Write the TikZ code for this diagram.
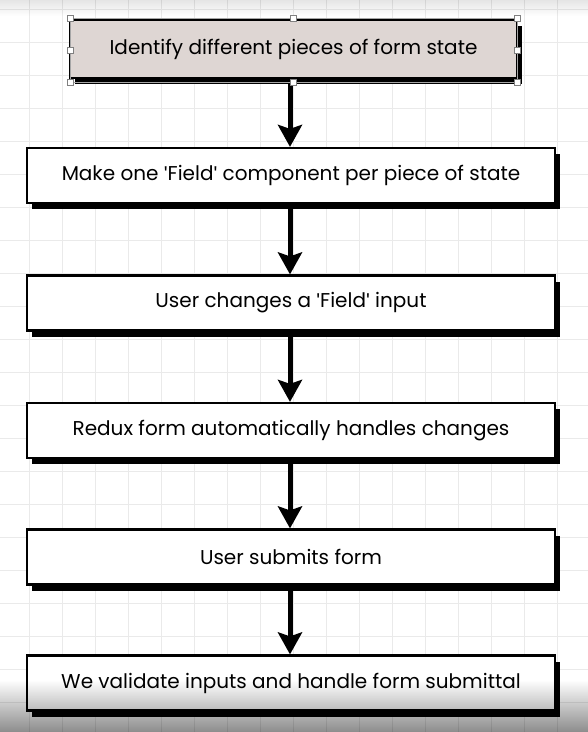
\documentclass[tikz,border=0pt]{standalone}
\usepackage{fontspec}
\setmainfont{Poppins}
\newfontfamily\apfont{Liberation Sans}
\usetikzlibrary{arrows.meta,fadings,calc}
\definecolor{boxfill}{HTML}{DED6D3}
\definecolor{gridc}{HTML}{EAEAEA}
\newcommand{\sq}{{\apfont\symbol{"27}}}
\tikzset{
  flowbox/.style={draw=black, line width=2.2pt, fill=white, minimum width=528pt, minimum height=55pt, inner sep=0pt, font=\fontsize{20}{24}\selectfont},
  firstbox/.style={flowbox, fill=boxfill, minimum width=447pt, minimum height=58pt},
  flowarrow/.style={line width=5pt, -{Stealth[length=22pt,width=24pt,inset=4pt]}},
  handle/.style={draw=gray, fill=white, line width=0.6pt, minimum size=6pt, inner sep=0pt},
}
\begin{document}
\begin{tikzpicture}[x=1pt,y=-1pt]
\useasboundingbox (0,0) rectangle (588,732);
\fill[white] (0,0) rectangle (588,732);
% grid
\foreach \gx in {-4,29,62,95,128,161,194,227,260,293,326,359,392,425,458,491,524,557}
  \draw[gridc, line width=1pt] (\gx,0) -- (\gx,732);
\foreach \gy in {9,42,75,108,141,174,207,240,273,306,339,372,405,438,471,504,537,570,603,636,669,702}
  \draw[gridc, line width=1pt] (0,\gy) -- (588,\gy);
% top shade
\fill[black, opacity=0.10, path fading=south] (0,0) rectangle (588,16);
% shadows
\foreach \cx/\cy/\w/\h in {293.5/49/447/58, 291/175.5/528/55, 291/303/528/55, 291/430.5/528/55, 291/557/528/55, 291/683/528/55}
  \fill[black] (\cx-\w/2+5,\cy-\h/2+6) rectangle (\cx+\w/2+5,\cy+\h/2+6);
% boxes
\node[firstbox] (b1) at (293.5,49) {Identify different pieces of form state};
\node[flowbox] (b2) at (291,175.5) {Make one \sq Field\sq{} component per piece of state};
\node[flowbox] (b3) at (291,303) {User changes a \sq Field\sq{} input};
\node[flowbox] (b4) at (291,430.5) {Redux form automatically handles changes};
\node[flowbox] (b5) at (291,557) {User submits form};
\node[flowbox] (b6) at (291,683) {We validate inputs and handle form submittal};
\coordinate (ax) at (290,0);
% arrows
\draw[flowarrow] (b1.south -| ax) ++(0,5) -- (b2.north -| ax);
\draw[flowarrow] (b2.south -| ax) ++(0,5) -- (b3.north -| ax);
\draw[flowarrow] (b3.south -| ax) ++(0,5) -- (b4.north -| ax);
\draw[flowarrow] (b4.south -| ax) ++(0,5) -- (b5.north -| ax);
\draw[flowarrow] (b5.south -| ax) ++(0,5) -- (b6.north -| ax);
% selection handles
\draw[gray!70, line width=0.5pt] (70,18) rectangle (517,82);
\foreach \hx/\hy [count=\i] in {70/18,293.5/18,517/18,70/50,517/50,70/82,293.5/82,517/82}
  \node[handle] (h\i) at (\hx,\hy) {};
% bottom shade
\fill[black, opacity=0.45, path fading=north] (0,680) rectangle (588,732);
\end{tikzpicture}
\end{document}
